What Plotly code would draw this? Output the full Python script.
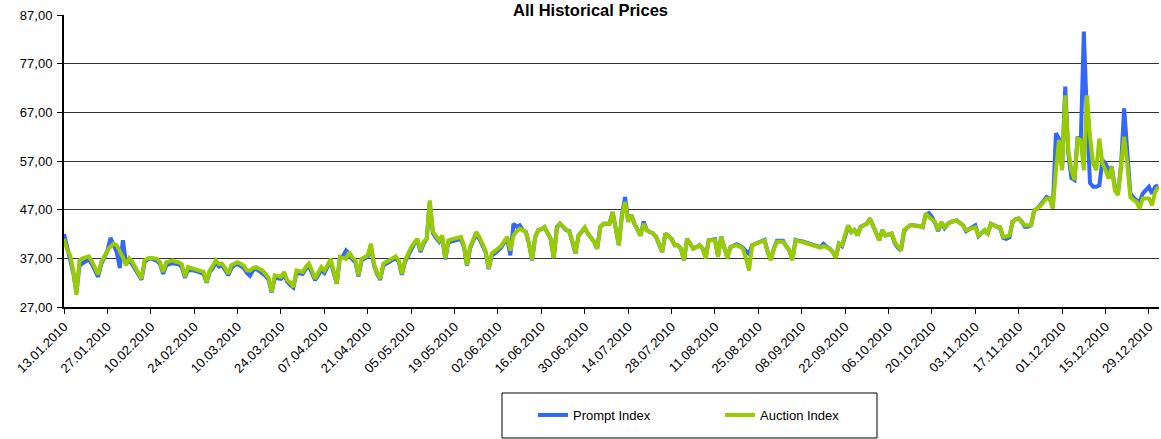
import pandas as pd
import plotly.graph_objects as go

# ---- data (one value per calendar day from 13.01.2010) ----
start_date = "2010-01-13"
series_names = ["Prompt Index", "Auction Index"]

auction_index = [
    41.0, 38.8, 37.6, 34.5, 29.5,
    36.6, 37.0, 37.3, 37.4, 36.4, 35.2, 33.7,
    36.2, 37.6, 38.6, 39.4, 40.0, 39.7, 38.6,
    37.2, 35.6, 37.0, 36.3, 35.2, 34.0, 32.8,
    36.6, 37.0, 37.1, 37.0, 36.9, 36.2, 34.2,
    36.2, 36.4, 36.6, 36.3, 36.2, 35.8, 33.2,
    35.2, 35.0, 34.9, 34.7, 34.5, 34.2, 32.1,
    34.5, 35.5, 36.6, 35.8, 35.9, 35.0, 33.8,
    35.6, 36.0, 36.2, 35.9, 35.5, 34.5, 34.5,
    35.0, 35.2, 34.8, 34.5, 33.8, 33.0, 30.1,
    33.5, 33.4, 33.2, 34.2, 32.5, 32.0, 31.1,
    34.5, 34.4, 34.2, 35.2, 35.9, 34.5, 32.8,
    34.0, 35.2, 34.5, 35.5, 36.9, 34.5, 31.8,
    37.3, 37.0, 36.9, 38.3, 37.2, 36.6, 33.5,
    36.9, 37.3, 37.6, 40.0, 35.9, 34.0, 32.8,
    35.9, 36.3, 36.6, 37.0, 37.4, 36.6, 33.8,
    36.6, 38.0, 39.3, 40.2, 41.0, 38.6, 40.4,
    41.0, 48.9, 42.5, 41.5, 40.7, 41.7, 37.0,
    40.7, 40.9, 41.0, 41.2, 41.4, 39.7, 35.6,
    39.3, 41.0, 42.4, 41.4, 40.0, 38.6, 34.9,
    38.0, 38.5, 39.0, 39.5, 40.5, 41.4, 38.6,
    41.7, 42.5, 43.1, 42.8, 42.4, 40.0, 36.7,
    41.4, 42.8, 43.0, 43.4, 42.2, 41.0, 37.1,
    43.1, 44.1, 43.5, 42.8, 42.4, 40.5, 38.0,
    41.7, 42.5, 43.4, 42.1, 41.2, 40.4, 39.0,
    43.4, 44.1, 44.0, 44.1, 46.5, 43.1, 39.7,
    45.9, 48.6, 44.5, 45.9, 44.1, 43.0, 41.7,
    44.1, 42.8, 42.4, 42.1, 41.4, 39.7, 38.3,
    42.1, 41.5, 41.0, 39.7, 39.7, 39.0, 36.6,
    41.0, 40.0, 39.0, 39.3, 39.7, 39.0, 37.0,
    40.7, 40.7, 40.7, 37.3, 41.4, 39.3, 37.0,
    39.3, 39.5, 39.7, 39.4, 39.0, 37.0, 34.5,
    39.7, 40.0, 40.2, 40.4, 40.7, 38.3, 36.6,
    39.0, 40.4, 40.4, 40.4, 39.5, 38.6, 36.6,
    40.7, 40.5, 40.4, None, None, None, None,
    None, 39.2, 39.5, 39.3, 39.0, 38.3, 37.1,
    40.0, 39.7, 42.0, 43.8, 42.4, 42.8, 41.7,
    43.4, 43.8, 44.1, 45.2, 43.8, 42.2, 40.7,
    42.8, 41.7, 41.9, 42.1, 40.4, 39.5, 38.6,
    42.8, 43.3, 43.8, 43.8, 43.8, 43.6, 43.4,
    46.2, 45.5, 45.0, 44.5, 42.8, 44.5, 43.4,
    44.0, 44.5, 44.6, 44.8, 44.3, 43.8, 42.8,
    43.1, 43.2, 43.4, 41.7, 42.2, 42.8, 42.1,
    44.1, 43.8, 43.4, 43.4, 41.4, 41.5, 41.7,
    44.5, 45.0, 45.2, 44.5, 43.8, 43.8, 43.8,
    46.9, 47.2, 47.8, 48.6, 49.3, 49.3, 47.2,
    55.1, 61.3, 55.1, 70.5, 59.2, 55.1, 53.1,
    61.6, 61.3, 55.1, 70.5, 62.0, 56.5, 55.1,
    61.6, 56.5, 55.1, 53.4, 55.8, 51.0, 50.0,
    56.0, 62.0, 56.5, 49.6, 49.0, 48.6, 47.2,
    49.3, 49.3, 49.3, 47.9, 50.6, 51.7,
]

prompt_index = [
    42.0, 39.5, 37.0, 34.0, 30.0,
    35.5, 36.0, 36.5, 36.8, 35.8, 34.5, 33.2,
    35.8, 37.0, 38.5, 41.2, 39.5, 38.3, 35.0,
    40.7, 36.0, 36.5, 35.8, 34.8, 33.8, 32.6,
    36.2, 36.8, 37.0, 36.8, 36.5, 35.8, 33.8,
    35.6, 35.8, 36.0, 35.9, 35.8, 35.2, 33.0,
    34.6, 34.6, 34.5, 34.3, 34.0, 33.8, 32.0,
    34.2, 35.0, 36.2, 35.3, 35.5, 34.6, 33.5,
    35.0, 35.6, 35.8, 35.5, 35.0, 34.0, 33.4,
    34.6, 34.8, 34.4, 34.0, 33.4, 32.6, 30.0,
    33.0, 33.0, 32.8, 33.8, 32.2, 31.5, 31.0,
    34.0, 34.0, 33.8, 34.8, 35.4, 34.0, 32.5,
    33.5, 34.6, 34.0, 35.2, 36.5, 34.0, 31.8,
    37.0, 37.5, 38.6, 38.0, 36.8, 36.2, 33.3,
    36.5, 37.0, 37.3, 39.6, 35.6, 33.8, 32.6,
    35.5, 36.0, 36.3, 36.7, 37.0, 36.3, 33.6,
    36.3, 37.6, 39.0, 40.0, 40.7, 38.3, 40.0,
    41.0, 48.5, 42.2, 41.2, 40.4, 41.4, 36.8,
    40.3, 40.4, 40.5, 40.8, 41.0, 39.4, 35.5,
    39.0, 40.6, 42.0, 41.0, 39.7, 38.3, 34.8,
    37.6, 38.0, 38.5, 39.2, 40.2, 41.0, 37.6,
    44.1, 43.5, 43.8, 42.8, 42.4, 40.0, 36.6,
    41.4, 42.8, 43.0, 43.4, 42.2, 41.0, 37.0,
    43.4, 44.1, 43.5, 42.8, 42.6, 40.5, 38.0,
    41.7, 42.5, 43.2, 42.1, 41.2, 40.4, 39.0,
    43.4, 44.1, 44.0, 44.1, 46.5, 43.1, 39.7,
    46.0, 49.6, 44.8, 45.9, 44.1, 43.0, 41.7,
    44.6, 42.8, 42.4, 42.1, 41.4, 39.7, 38.3,
    42.1, 41.5, 41.0, 39.7, 39.7, 39.0, 36.6,
    41.0, 40.0, 39.0, 39.3, 39.7, 39.0, 37.2,
    40.7, 40.7, 40.9, 37.5, 41.4, 39.3, 37.2,
    39.3, 39.5, 39.9, 39.6, 39.2, 38.5, 37.9,
    39.7, 40.0, 40.4, 40.6, 40.8, 38.3, 36.8,
    39.0, 40.6, 40.6, 40.6, 39.5, 38.6, 36.8,
    40.8, 40.6, 40.5, None, None, None, None,
    None, 39.3, 40.0, 39.4, 39.0, 38.3, 37.2,
    40.0, 39.5, 41.5, 43.6, 42.4, 42.8, 41.8,
    43.5, 43.8, 44.1, 45.2, 43.8, 42.2, 40.7,
    42.8, 41.7, 41.9, 42.1, 40.2, 39.2, 38.6,
    42.5, 43.3, 43.8, 43.8, 43.8, 43.6, 43.4,
    46.0, 46.3, 45.5, 44.3, 42.6, 44.3, 43.2,
    44.0, 44.5, 44.6, 44.8, 44.3, 43.8, 42.6,
    43.1, 43.4, 43.8, 41.6, 42.2, 42.8, 42.0,
    44.1, 43.8, 43.4, 43.2, 41.2, 41.0, 41.3,
    44.5, 45.0, 45.2, 44.5, 43.5, 43.5, 43.8,
    46.9, 47.2, 48.0, 48.8, 49.6, 49.3, 47.5,
    62.7, 61.5, 55.5, 72.3, 58.5, 53.5, 53.1,
    62.0, 60.6, 83.6, 66.0, 52.5, 51.7, 51.7,
    52.0, 57.2, 56.5, 55.1, 55.8, 51.7, 50.3,
    56.0, 67.8, 58.0, 50.3, 49.5, 48.9, 48.6,
    50.3, 51.0, 51.7, 50.3, 51.7, 52.0,
]

y_ticks = [27, 37, 47, 57, 67, 77, 87]

# ---- figure ----
n = min(len(auction_index), len(prompt_index))
dates = pd.date_range(start_date, periods=n, freq="D")

FONT = "Liberation Sans, Arial, sans-serif"
BLUE = "#3366FF"
GREEN = "#99CC00"

fig = go.Figure()
fig.add_trace(go.Scatter(x=dates, y=prompt_index[:n], name=series_names[0], mode="lines",
                         line=dict(color=BLUE, width=4), connectgaps=True))
fig.add_trace(go.Scatter(x=dates, y=auction_index[:n], name=series_names[1], mode="lines",
                         line=dict(color=GREEN, width=4), connectgaps=True))

W, H = 1161, 439
ML, MR, MT, MB = 64, 2, 15, 132
PW, PH = W - ML - MR, H - MT - MB


def px_x(px):
    return (px - ML) / PW


def px_y(py):
    return (H - MB - py) / PH


fig.update_layout(
    width=W, height=H,
    margin=dict(l=ML, r=MR, t=MT, b=MB, pad=0),
    paper_bgcolor="white", plot_bgcolor="white",
    separators=", ",
    font=dict(family=FONT, size=13, color="black"),
    showlegend=True,
    legend=dict(orientation="h", x=px_x(533), y=px_y(415), xanchor="left", yanchor="middle",
                entrywidth=142, font=dict(family=FONT, size=13, color="black"),
                bgcolor="rgba(0,0,0,0)", borderwidth=0),
    shapes=[dict(type="rect", xref="paper", yref="paper",
                 x0=px_x(502), x1=px_x(877), y0=px_y(438), y1=px_y(393),
                 line=dict(color="black", width=1), fillcolor="rgba(0,0,0,0)", layer="above")],
    annotations=[dict(text="<b>All Historical Prices</b>", xref="paper", yref="paper",
                      x=px_x(590), y=px_y(20.5), xanchor="center", yanchor="bottom",
                      showarrow=False, font=dict(family=FONT, size=16.5, color="black"))],
)

fig.update_xaxes(
    type="date",
    range=["2010-01-13", "2011-01-01 06:00"],
    tickmode="linear", tick0="2010-01-13", dtick=14 * 86400000,
    tickformat="%d.%m.%Y", tickangle=-45,
    ticks="outside", ticklen=5, tickcolor="black", tickwidth=1,
    showline=True, linecolor="black", linewidth=2,
    showgrid=False, zeroline=False,
    tickfont=dict(family=FONT, size=13, color="black"),
)
fig.update_yaxes(
    range=[27, 87], tickmode="array", tickvals=y_ticks, tickformat=".2f",
    ticklabelstandoff=2,
    ticks="outside", ticklen=5, tickcolor="black", tickwidth=1,
    showline=True, linecolor="black", linewidth=2,
    showgrid=True, gridcolor="#333333", gridwidth=1, zeroline=False,
    tickfont=dict(family=FONT, size=13, color="black"),
)

fig.write_html("out.html", config={"displayModeBar": False},
               post_script="document.body.style.margin='0';")
